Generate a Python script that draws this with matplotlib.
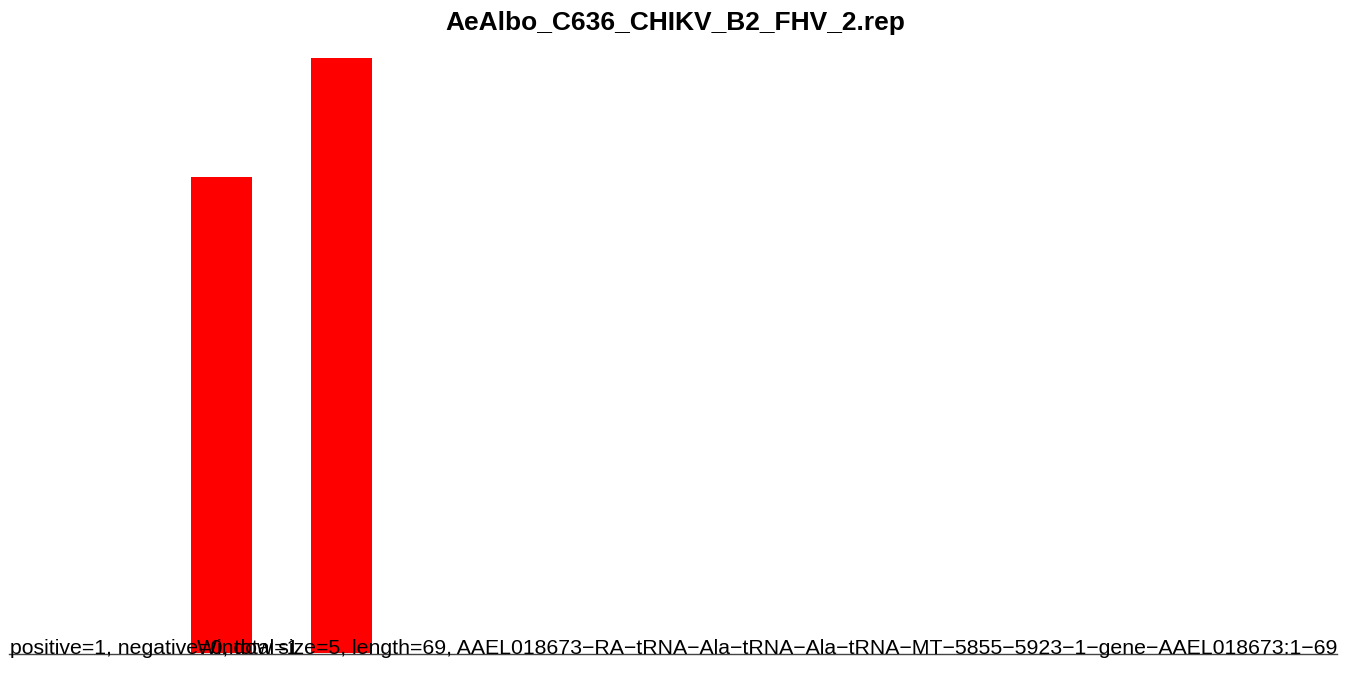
import matplotlib
matplotlib.use('Agg')
import matplotlib.pyplot as plt

# data
positions = [0, 1]
values = [4, 5]
title = "AeAlbo_C636_CHIKV_B2_FHV_2.rep"
left_note = "positive=1, negative=0, total=1"
right_note = ("Window size=5, length=69, AAEL018673\u2212RA\u2212tRNA\u2212Ala\u2212tRNA\u2212Ala"
              "\u2212tRNA\u2212MT\u22125855\u22125923\u22121\u2212gene\u2212AAEL018673:1\u221269")

plt.rcParams['font.family'] = ['Liberation Sans', 'DejaVu Sans']

W, H = 1350, 677
fig = plt.figure(figsize=(W / 100, H / 100), dpi=100)

# axes spans whole width; bottom at baseline, top at tallest bar
base, top = 653, 58
ax = fig.add_axes([0, (H - base) / H, 1, (base - top) / H])
pitch = 120.0
c0 = 221.5
ax.set_xlim(-c0 / pitch, (W - c0) / pitch)
ax.set_ylim(0, max(values))
ax.bar(positions, values, width=61 / pitch, color='red', edgecolor='none')
ax.axis('off')

fig.text(0.5, 1 - 23 / H, title, ha='center', va='center',
         fontsize=19, fontweight='bold')

yb = (H - 654) / H
fig.text(10 / W, yb, left_note, ha='left', va='baseline', fontsize=15.3)
fig.text(1337 / W, yb, right_note, ha='right', va='baseline', fontsize=15.3)
fig.add_artist(plt.Line2D([9 / W, 1337 / W], [yb, yb], color='#444444', lw=1.0))

fig.savefig('out.png', dpi=100)
